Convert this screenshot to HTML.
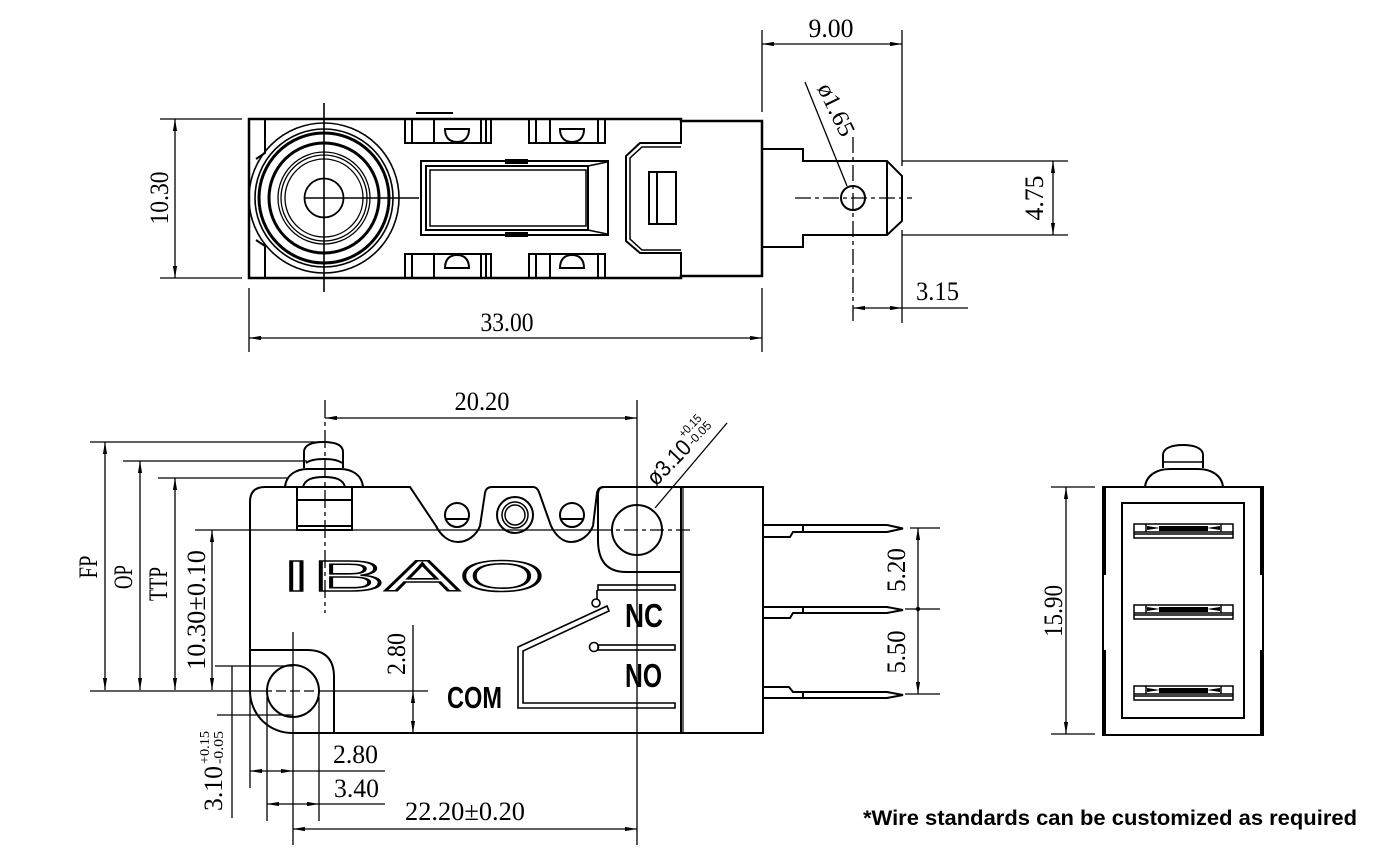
<!DOCTYPE html>
<html><head><meta charset="utf-8">
<style>
html,body{margin:0;padding:0;background:#fff;}
svg{display:block;}
.d{font-family:"Liberation Serif",serif;font-size:26px;fill:#000;stroke:none;}
.s{font-family:"Liberation Sans",sans-serif;fill:#000;stroke:none;}
</style></head><body>
<svg width="1390" height="863" viewBox="0 0 1390 863" xmlns="http://www.w3.org/2000/svg">
<defs>
<marker id="ar" viewBox="0 0 12 6" refX="12" refY="3" markerWidth="12" markerHeight="6" markerUnits="userSpaceOnUse" orient="auto-start-reverse">
<path d="M0,0.9 L12,3 L0,5.1 Z" fill="#000"/>
</marker>
<clipPath id="cb"><rect x="250" y="120" width="430" height="157"/></clipPath>
</defs>
<rect width="1390" height="863" fill="#fff"/>

<!-- ================= TOP VIEW ================= -->
<g fill="none" stroke="#000" stroke-width="2">
  <path d="M249,119 H681 V121 H762 V276 H681 V278 H249 Z" stroke-width="2.5"/>
  <path d="M265,119 V153 L256,159 M256,240 L265,246 V278"/>
  <circle cx="324" cy="198" r="75" clip-path="url(#cb)" stroke-width="1.6"/>
  <circle cx="324" cy="198" r="69" stroke-width="1.6"/>
  <circle cx="324" cy="198" r="65" stroke-width="3"/>
  <circle cx="324" cy="198" r="55" stroke-width="3"/>
  <circle cx="324" cy="198" r="46" stroke-width="1.3"/>
  <circle cx="324" cy="198" r="43" stroke-width="1.3"/>
  <circle cx="324" cy="198" r="39" stroke-width="1.3"/>
  <circle cx="324" cy="198" r="19.5" stroke-width="1.8"/>
  <path d="M324,103 V292 M304,198 H419" stroke-width="1.6"/>
  <path d="M405,119 V143 H491 V119 M412,119 V143 M434,119 V143 M481,119 V143 M486,119 V143"/>
  <path d="M445,129 H469 C469,138 464,142 457,142 C450,142 445,138 445,129 Z"/>
  <path d="M529,119 V143 H605 V119 M536,119 V143 M550,119 V143 M598,119 V143"/>
  <path d="M560,129 H584 C584,138 579,142 572,142 C565,142 560,138 560,129 Z"/>
  <path d="M405,278 V254 H491 V278 M412,278 V254 M434,278 V254 M481,278 V254 M486,278 V254"/>
  <path d="M445,268 H469 C469,259 464,255 457,255 C450,255 445,259 445,268 Z"/>
  <path d="M529,278 V254 H605 V278 M536,278 V254 M550,278 V254 M598,278 V254"/>
  <path d="M560,268 H584 C584,259 579,255 572,255 C565,255 560,259 560,268 Z"/>
  <path d="M416,113 H453"/>
  <rect x="421" y="161" width="187" height="74"/>
  <rect x="426" y="166" width="162" height="64"/>
  <rect x="430" y="170" width="156" height="56" stroke-width="1.5"/>
  <path d="M588,166 L607,162 M588,230 L607,234" stroke-width="1.5"/>
  <path d="M681,121 V143 H640 L626,156 V241 L640,253 H681 V276"/>
  <path d="M681,147 H642 L630,158 V239 L642,250 H681" stroke-width="1.5"/>
  <rect x="649" y="172" width="27" height="52"/>
  <path d="M657,172 V224"/>
  <path d="M762,149 H803 V161 H887 L902,176 V221 L887,235 H803 V247 H762"/>
  <path d="M887,161 V235"/>
  <circle cx="853" cy="198" r="12"/>
</g>
<rect x="505" y="159" width="23" height="5" fill="#000"/>
<rect x="505" y="232" width="23" height="5" fill="#000"/>

<g fill="none" stroke="#000" stroke-width="1.3">
  <path d="M795,198 H912" stroke-dasharray="16,4,4,4"/>
  <path d="M853,137 V323" stroke-dasharray="16,4,4,4"/>
  <path d="M762,30 V112 M902,30 V166 M902,230 V323"/>
  <path d="M762,44 H902" marker-start="url(#ar)" marker-end="url(#ar)"/>
  <path d="M902,161 H1068 M902,235 H1068"/>
  <path d="M1053,161 V235" marker-start="url(#ar)" marker-end="url(#ar)"/>
  <path d="M853,308 H902" marker-start="url(#ar)" marker-end="url(#ar)"/>
  <path d="M902,308 H968"/>
  <path d="M249,288 V352 M762,288 V352"/>
  <path d="M249,338 H762" marker-start="url(#ar)" marker-end="url(#ar)"/>
  <path d="M160,119 H242 M160,278 H242"/>
  <path d="M175,119 V278" marker-start="url(#ar)" marker-end="url(#ar)"/>
  <path d="M805,82 L847,186"/>
</g>
<text class="d" x="831" y="37" text-anchor="middle" textLength="45" lengthAdjust="spacingAndGlyphs">9.00</text>
<text class="d" x="916" y="300" textLength="43" lengthAdjust="spacingAndGlyphs">3.15</text>
<text class="d" x="507" y="331" text-anchor="middle" textLength="53" lengthAdjust="spacingAndGlyphs">33.00</text>
<text class="d" transform="translate(168,198) rotate(-90)" text-anchor="middle" textLength="53" lengthAdjust="spacingAndGlyphs">10.30</text>
<text class="d" transform="translate(1043,198) rotate(-90)" text-anchor="middle" textLength="45" lengthAdjust="spacingAndGlyphs">4.75</text>
<text class="d" style="font-size:24px" transform="translate(817,88) rotate(64)" textLength="56" lengthAdjust="spacingAndGlyphs">ø1.65</text>

<!-- ================= SIDE VIEW ================= -->
<g fill="none" stroke="#000" stroke-width="2">
  <path d="M250,691 V502 Q250,487 265,487 H410 L436,526 C441,536 449,542 458,542 C467,542 476,536 480,526 L485,493 Q486,487 492,487 H533 Q537,487 539,492 L551,526 C556,536 563,542 571,542 C580,542 589,536 593,526 L597,493 Q598,487 604,487 H763 V733 H293 A42,42 0 0 1 250,691 Z"/>
  <path d="M604,487 Q598,487 598,495 V540 Q598,572 626,572 H681"/>
  <path d="M681,487 V733"/>
  <path d="M683,487 V733" stroke-width="1.2"/>
  <circle cx="637" cy="530" r="25"/>
  <circle cx="515" cy="515" r="18"/>
  <circle cx="515" cy="515" r="13" stroke-width="1.5"/>
  <circle cx="515" cy="515" r="10" stroke-width="1.5"/>
  <circle cx="457" cy="515" r="12"/>
  <circle cx="572" cy="515" r="12"/>
  <path d="M446,519 H468 M561,519 H583"/>
  <rect x="297" y="487" width="55" height="43"/>
  <path d="M297,500 H352"/>
  <path d="M298,526 H351" stroke-width="2"/>
  <path d="M303,487 C305,479 313,477 324,477 C335,477 343,479 345,487"/>
  <path d="M285,487 C286,475 296,469 308,469 H340 C352,469 362,475 363,487"/>
  <path d="M304,468 V452 C304,445 312,442 323,442 C335,442 343,445 343,452 V468"/>
  <path d="M306,463 C310,460 316,459 324,459 C332,459 338,460 342,463"/>
  <path d="M250,650 H307 Q334,650 334,677 V733"/>
  <circle cx="293" cy="691" r="26"/>
  <rect x="598" y="585" width="77" height="5" stroke-width="1.6"/>
  <path d="M597,590 V599" stroke-width="1.6"/>
  <circle cx="596" cy="603" r="4" stroke-width="1.6"/>
  <path d="M518,647 L607,606 L609,611 L523,651 V703 H675 V708 H518 Z" stroke-width="1.6"/>
  <circle cx="594" cy="647" r="4.5" stroke-width="1.6"/>
  <rect x="598" y="645" width="77" height="5" stroke-width="1.6"/>
  <path d="M763,525 H887 L903,528.5 L887,532 H793 L790,537 H763"/>
  <path d="M803,525 V532"/>
  <path d="M763,607 H887 L903,610 L887,613 H793 L790,618 H763"/>
  <path d="M803,607 V613"/>
  <path d="M763,687 H789 L793,692 H887 L903,695 L887,698 H763"/>
  <path d="M803,692 V698"/>
</g>
<text x="281" y="591" style="font-family:'Liberation Sans',sans-serif;font-size:44px;fill:#fff;stroke:#000;stroke-width:1.6" textLength="264" lengthAdjust="spacingAndGlyphs">IBAO</text>
<text class="s" x="625" y="627" style="font-size:33px;font-weight:bold" textLength="38" lengthAdjust="spacingAndGlyphs">NC</text>
<text class="s" x="625" y="687" style="font-size:33px;font-weight:bold" textLength="37" lengthAdjust="spacingAndGlyphs">NO</text>
<text class="s" x="447" y="708" style="font-size:31px;font-weight:bold" textLength="55" lengthAdjust="spacingAndGlyphs">COM</text>

<g fill="none" stroke="#000" stroke-width="1.3">
  <path d="M325,400 V613" stroke-dasharray="18,4,4,4"/>
  <path d="M637,400 V845"/>
  <path d="M598,530 H690" stroke-dasharray="14,4,4,4"/>
  <path d="M195,530 H598"/>
  <path d="M325,418 H637" marker-start="url(#ar)" marker-end="url(#ar)"/>
  <path d="M655,508 L727,423"/>
  <path d="M90,442 H320 M123,461 H307 M158,478 H287"/>
  <path d="M105,442 V690" marker-start="url(#ar)" marker-end="url(#ar)"/>
  <path d="M140,461 V690" marker-start="url(#ar)" marker-end="url(#ar)"/>
  <path d="M175,478 V690" marker-start="url(#ar)" marker-end="url(#ar)"/>
  <path d="M212,530 V690" marker-start="url(#ar)" marker-end="url(#ar)"/>
  <path d="M90,691 H262 M325,691 H428"/>
  <path d="M262,691 H325" stroke-dasharray="10,4"/>
  <path d="M293,632 V845"/>
  <path d="M215,666 H293 M217,715 H293"/>
  <path d="M232,666 V818"/>
  <path d="M250,691 V788 M267,697 V821 M319,697 V821"/>
  <path d="M250,771 H293" marker-start="url(#ar)" marker-end="url(#ar)"/>
  <path d="M293,771 H385"/>
  <path d="M267,804 H319" marker-start="url(#ar)" marker-end="url(#ar)"/>
  <path d="M319,804 H385"/>
  <path d="M293,829 H637" marker-start="url(#ar)" marker-end="url(#ar)"/>
  <path d="M413,625 V691"/>
  <path d="M413,691 V733" marker-start="url(#ar)" marker-end="url(#ar)"/>
  <path d="M910,528 H940 M905,609 H940 M905,694 H940"/>
  <path d="M918,609 V528" marker-end="url(#ar)"/>
  <path d="M918,609 V694" marker-end="url(#ar)"/>
</g>
<circle cx="918" cy="609" r="2.2" fill="#000"/>
<text class="d" x="482" y="410" text-anchor="middle" textLength="55" lengthAdjust="spacingAndGlyphs">20.20</text>
<text class="d" transform="translate(97,567) rotate(-90)" text-anchor="middle" textLength="23" lengthAdjust="spacingAndGlyphs">FP</text>
<text class="d" transform="translate(132,577) rotate(-90)" text-anchor="middle" textLength="24" lengthAdjust="spacingAndGlyphs">OP</text>
<text class="d" transform="translate(167,584) rotate(-90)" text-anchor="middle" textLength="34" lengthAdjust="spacingAndGlyphs">TTP</text>
<text class="d" transform="translate(205,610) rotate(-90)" text-anchor="middle" textLength="120" lengthAdjust="spacingAndGlyphs">10.30±0.10</text>
<text class="d" transform="translate(405,654) rotate(-90)" text-anchor="middle" textLength="42" lengthAdjust="spacingAndGlyphs">2.80</text>
<text class="d" transform="translate(905,570) rotate(-90)" text-anchor="middle" textLength="44" lengthAdjust="spacingAndGlyphs">5.20</text>
<text class="d" transform="translate(905,652) rotate(-90)" text-anchor="middle" textLength="43" lengthAdjust="spacingAndGlyphs">5.50</text>
<text class="d" x="333" y="763" textLength="45" lengthAdjust="spacingAndGlyphs">2.80</text>
<text class="d" x="334" y="797" textLength="45" lengthAdjust="spacingAndGlyphs">3.40</text>
<text class="d" x="405" y="820" textLength="120" lengthAdjust="spacingAndGlyphs">22.20±0.20</text>
<g transform="translate(222,811) rotate(-90)">
  <text class="d" x="0" y="0" textLength="45" lengthAdjust="spacingAndGlyphs">3.10</text>
  <text class="d" x="47" y="-13" style="font-size:14px" textLength="33" lengthAdjust="spacingAndGlyphs">+0.15</text>
  <text class="d" x="47" y="1" style="font-size:14px" textLength="33" lengthAdjust="spacingAndGlyphs">-0.05</text>
</g>
<g transform="translate(656,487) rotate(-46)">
  <text class="s" x="0" y="0" style="font-size:23px" textLength="53" lengthAdjust="spacingAndGlyphs">ø3.10</text>
  <text class="s" x="54" y="-14" style="font-size:12px" textLength="27" lengthAdjust="spacingAndGlyphs">+0.15</text>
  <text class="s" x="55" y="-2" style="font-size:12px" textLength="28" lengthAdjust="spacingAndGlyphs">-0.05</text>
</g>

<!-- ================= RIGHT VIEW ================= -->
<g fill="none" stroke="#000" stroke-width="2">
  <rect x="1103" y="487" width="160" height="248"/>
  <path d="M1104,487 V575 M1104,650 V735 M1262,487 V575 M1262,650 V735" stroke-width="4"/>
  <rect x="1122" y="503" width="122" height="215"/>
  <path d="M1145,487 C1146,476 1156,469 1170,469 H1198 C1212,469 1222,476 1223,487"/>
  <path d="M1163,468 V455 C1163,448 1172,445 1183,445 C1194,445 1203,448 1203,455 V468"/>
  <path d="M1163,462 H1203" stroke-width="1.5"/>
  <g stroke-width="1.5">
    <rect x="1134" y="524" width="99" height="14"/>
    <path d="M1134,532 H1233 M1134,534 H1233 M1146,524 V532 M1221,524 V532"/>
    <rect x="1134" y="605" width="99" height="14"/>
    <path d="M1134,613 H1233 M1134,615 H1233 M1146,605 V613 M1221,605 V613"/>
    <rect x="1134" y="686" width="99" height="14"/>
    <path d="M1134,694 H1233 M1134,696 H1233 M1146,686 V694 M1221,686 V694"/>
  </g>
</g>
<g fill="#000">
  <path d="M1147,526 L1160,528 L1147,530 Z M1220,526 L1207,528 L1220,530 Z"/>
  <rect x="1159" y="526" width="49" height="5"/>
  <path d="M1147,607 L1160,609 L1147,611 Z M1220,607 L1207,609 L1220,611 Z"/>
  <rect x="1159" y="607" width="49" height="5"/>
  <path d="M1147,688 L1160,690 L1147,692 Z M1220,688 L1207,690 L1220,692 Z"/>
  <rect x="1159" y="688" width="49" height="5"/>
</g>
<g fill="none" stroke="#000" stroke-width="1.3">
  <path d="M1051,487 H1095 M1051,734 H1095"/>
  <path d="M1066,487 V734" marker-start="url(#ar)" marker-end="url(#ar)"/>
</g>
<text class="d" transform="translate(1062,611) rotate(-90)" text-anchor="middle" textLength="52" lengthAdjust="spacingAndGlyphs">15.90</text>

<text class="s" x="863" y="825" style="font-size:21px;font-weight:bold" textLength="494" lengthAdjust="spacingAndGlyphs">*Wire standards can be customized as required</text>
</svg>
</body></html>
